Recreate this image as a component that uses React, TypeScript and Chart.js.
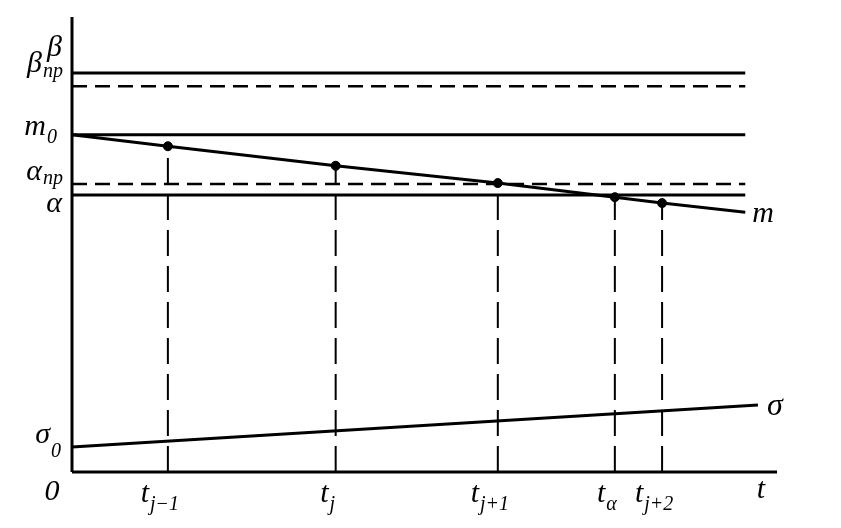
import React, { useEffect, useRef } from "react";
import { Chart, registerables } from "chart.js";

Chart.register(...registerables);

// ---- data (axis units 0..100) ----
const levelSymbols = ["β", "β", "m", "α", "α"];
const levelSubs = ["", "пр", "0", "пр", ""];
const levelValues = [87.7, 84.8, 74.1, 63.3, 60.9];

const timeSubs = ["j−1", "j", "j+1", "α", "j+2"];
const timeValues = [13.6, 37.4, 60.4, 77.0, 83.7];
const mValues = [71.6, 67.3, 63.5, 60.4, 59.1];

const mStart = 74.1;
const mEnd = 57.1;
const linesEndT = 95.5;

const sigmaStart = 5.5;
const sigmaEnd = 14.7;
const sigmaEndT = 97.3;

const FONT = "'Liberation Serif', 'DejaVu Serif', serif";

function drawLabel(
  ctx: CanvasRenderingContext2D,
  main: string,
  sub: string,
  x: number,
  baseline: number,
  align: "left" | "right" | "center",
  subDy: number,
  size = 30,
  subSize = 20
) {
  ctx.font = `italic ${size}px ${FONT}`;
  const mw = ctx.measureText(main).width;
  ctx.font = `italic ${subSize}px ${FONT}`;
  const sw = sub ? ctx.measureText(sub).width + 1 : 0;
  const total = mw + sw;
  let sx = x;
  if (align === "right") sx = x - total;
  else if (align === "center") sx = x - total / 2;
  ctx.textAlign = "left";
  ctx.textBaseline = "alphabetic";
  ctx.font = `italic ${size}px ${FONT}`;
  ctx.fillText(main, sx, baseline);
  if (sub) {
    ctx.font = `italic ${subSize}px ${FONT}`;
    ctx.fillText(sub, sx + mw + 1, baseline + subDy);
  }
}

const labelPlugin = {
  id: "figureLabels",
  afterDraw(chart: any) {
    const ctx: CanvasRenderingContext2D = chart.ctx;
    const xs = chart.scales.x;
    const ys = chart.scales.y;
    const x0 = xs.getPixelForValue(0);
    const y0 = ys.getPixelForValue(0);
    ctx.save();
    ctx.fillStyle = "#000";
    // level labels on the left
    const levelDy = [-17, -14, 0, -4, 17];
    const levelSubDy = [0, 5, 8, 4, 0];
    const levelRight = [62, 63, 57, 63, 62];
    levelValues.forEach((v, i) => {
      const py = ys.getPixelForValue(v);
      drawLabel(ctx, levelSymbols[i], levelSubs[i], levelRight[i], py + levelDy[i], "right", levelSubDy[i]);
    });
    // sigma0
    drawLabel(ctx, "σ", "0", 61, ys.getPixelForValue(sigmaStart) - 4, "right", 14);
    // origin
    drawLabel(ctx, "0", "", x0 - 20, y0 + 28, "center", 0);
    // time labels
    timeValues.forEach((t, i) => {
      const px = xs.getPixelForValue(t);
      drawLabel(ctx, "t", timeSubs[i], px - 8, y0 + 30, "center", 8);
    });
    drawLabel(ctx, "t", "", xs.getPixelForValue(100) - 16, y0 + 26, "center", 0);
    // m and sigma line-end labels
    drawLabel(ctx, "m", "", xs.getPixelForValue(linesEndT) + 7, ys.getPixelForValue(mEnd) + 10, "left", 0);
    drawLabel(ctx, "σ", "", xs.getPixelForValue(sigmaEndT) + 9, ys.getPixelForValue(sigmaEnd) + 10, "left", 0, 32);
    ctx.restore();
  },
};

export default function App() {
  const ref = useRef<HTMLCanvasElement | null>(null);

  useEffect(() => {
    if (!ref.current) return;
    const line = (data: { x: number; y: number }[], width: number, dash: number[] = []) => ({
      data,
      showLine: true,
      borderColor: "#000",
      backgroundColor: "#000",
      borderWidth: width,
      borderDash: dash,
      borderCapStyle: "butt",
      pointRadius: 0,
      pointHoverRadius: 0,
      clip: false,
      tension: 0,
    });

    const datasets: any[] = [];
    // axes
    datasets.push(line([{ x: 0, y: 0 }, { x: 0, y: 100 }], 3));
    datasets.push(line([{ x: 0, y: 0 }, { x: 100, y: 0 }], 3));
    // levels
    levelValues.forEach((v, i) => {
      const dashed = levelSubs[i] === "пр";
      datasets.push(line([{ x: 0, y: v }, { x: linesEndT, y: v }], dashed ? 2.5 : 3, dashed ? [15, 8] : []));
    });
    // m line
    datasets.push(
      line(
        [{ x: 0, y: mStart }, ...timeValues.map((t, i) => ({ x: t, y: mValues[i] })), { x: linesEndT, y: mEnd }],
        3
      )
    );
    // verticals
    timeValues.forEach((t, i) => {
      datasets.push(line([{ x: t, y: 0 }, { x: t, y: mValues[i] }], 2, [26, 10]));
    });
    // m points
    datasets.push({
      data: timeValues.map((t, i) => ({ x: t, y: mValues[i] })),
      showLine: false,
      pointRadius: 4.5,
      pointBackgroundColor: "#000",
      pointBorderColor: "#000",
      clip: false,
    });
    // sigma
    datasets.push(line([{ x: 0, y: sigmaStart }, { x: sigmaEndT, y: sigmaEnd }], 3));

    const chart = new Chart(ref.current, {
      type: "scatter",
      data: { datasets },
      options: {
        animation: false,
        responsive: true,
        maintainAspectRatio: false,
        events: [],
        layout: { padding: { left: 72, right: 64, top: 17, bottom: 56 } },
        plugins: { legend: { display: false }, tooltip: { enabled: false } },
        scales: {
          x: { type: "linear", min: 0, max: 100, display: false },
          y: { type: "linear", min: 0, max: 100, display: false },
        },
      },
      plugins: [labelPlugin],
    } as any);
    return () => chart.destroy();
  }, []);

  return (
    <div style={{ position: "fixed", left: 0, top: 0, width: 841, height: 528, background: "#fff" }}>
      <canvas ref={ref} />
    </div>
  );
}
